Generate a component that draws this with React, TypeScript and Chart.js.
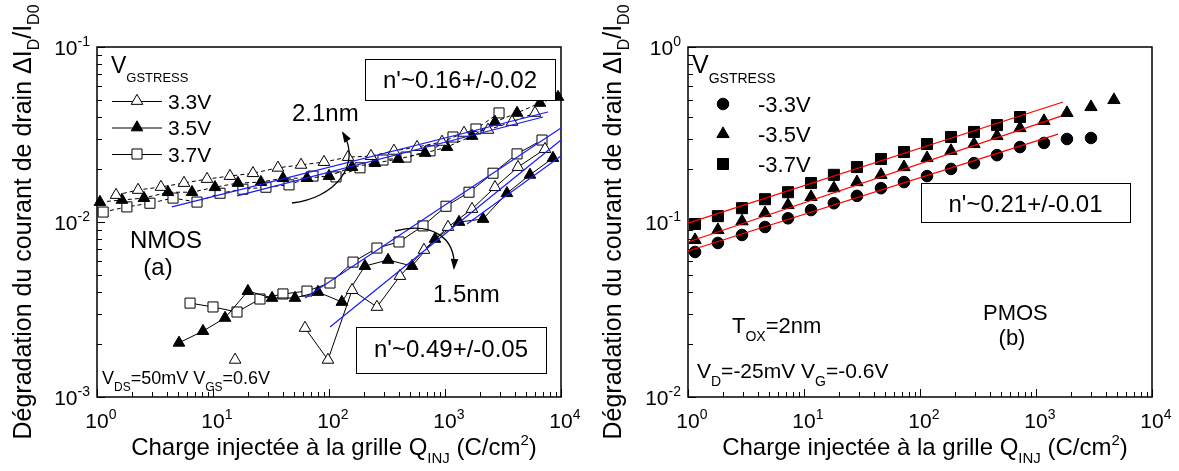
import React, { useEffect, useRef } from "react";
import { Chart, registerables } from "chart.js";

Chart.register(...registerables);

const FONT = '"Liberation Sans", Arial, Helvetica, sans-serif';

// ---------------- Panel (a) NMOS ----------------
const nmosXExps = [0, 1, 2, 3, 4];
const nmosYExps = [-3, -2, -1];

// 2.1 nm oxide
const n21_33_x = [1.46, 2.26, 3.56, 5.62, 8.88, 14.0, 22.1, 36.3, 57.4, 90.6, 146, 230, 363, 574, 942, 1459, 2349, 3784, 5970];
const n21_33_y = [0.01426, 0.01524, 0.01585, 0.0167, 0.0176, 0.0183, 0.019, 0.0204, 0.0212, 0.022, 0.0235, 0.0238, 0.0255, 0.0268, 0.0287, 0.0323, 0.0336, 0.0373, 0.042];
const n21_35_x = [1.06, 1.64, 2.54, 4.09, 6.59, 10.4, 16.4, 25.9, 40.1, 64.6, 100, 158, 249, 394, 673, 1040, 1710, 2700, 4180, 6590, 9420];
const n21_35_y = [0.013, 0.01336, 0.0137, 0.0148, 0.0148, 0.0158, 0.0167, 0.0169, 0.0178, 0.0178, 0.0183, 0.0206, 0.0217, 0.0229, 0.0248, 0.0268, 0.031, 0.0373, 0.042, 0.0479, 0.0518];
const n21_37_x = [1.13, 1.81, 2.86, 4.52, 7.28, 11.5, 18.1, 28.6, 45.2, 72.8, 115, 185, 292, 461, 743, 1172, 1849, 2923];
const n21_37_y = [0.0114, 0.0122, 0.0128, 0.0137, 0.013, 0.0146, 0.0154, 0.0158, 0.0163, 0.0183, 0.0181, 0.0204, 0.0226, 0.0235, 0.0255, 0.0306, 0.034, 0.042];

// 1.5 nm oxide (null = break in the curve)
const n15_33_x = [15.5, 30, 62.1, 98, 158, 259, 409, 659, 1061, 1710, 2698, 4258, 7280];
const n15_33_y = [0.00163, null, 0.00248, 0.00163, 0.00408, 0.00327, 0.00491, 0.00692, 0.00936, 0.01186, 0.0158, 0.0206, 0.0261];
const n15_35_x = [5.09, 8.2, 12.7, 20.0, 32.3, 50.9, 80.4, 129, 204, 323, 520, 820, 1321, 2128, 3420, 5404, 8530];
const n15_35_y = [0.00204, 0.00238, 0.00283, 0.00403, 0.00368, 0.00368, 0.00398, 0.00349, 0.0056, 0.00607, 0.0056, 0.008, 0.01, 0.0104, 0.0146, 0.0186, 0.0232];
const n15_37_x = [6.34, 10, 16.1, 25.4, 40.1, 64.6, 102, 161, 259, 401, 646, 1020, 1610, 2594, 4178, 6860];
const n15_37_y = [0.00344, 0.00327, 0.00306, 0.00363, 0.00388, 0.00403, 0.00448, 0.0059, 0.0071, 0.00769, 0.0095, 0.0123, 0.0148, 0.019, 0.0245, 0.0294];

// power-law fits
const fit21a_x = [4.43, 7727];
const fit21a_y = [0.0122, 0.0425];
const fit21b_x = [16.1, 7000];
const fit21b_y = [0.0141, 0.0398];
const fit15a_x = [62.1, 10000];
const fit15a_y = [0.00368, 0.0344];
const fit15b_x = [102, 10000];
const fit15b_y = [0.00251, 0.0294];
const fit15c_x = [1549, 10000];
const fit15c_y = [0.00975, 0.0238];

const nmosLegend = ["3.3V", "3.5V", "3.7V"];

// ---------------- Panel (b) PMOS ----------------
const pmosXExps = [0, 1, 2, 3, 4];
const pmosYExps = [-2, -1, 0];
const pmosX = [1.15, 1.81, 2.92, 4.61, 7.28, 11.5, 18.1, 28.6, 46.1, 72.8, 115, 185, 292, 461, 728, 1172, 1849, 2979, 4698];
const p33_y = [0.0674, 0.0759, 0.0843, 0.0936, 0.105, 0.117, 0.128, 0.141, 0.156, 0.169, 0.183, 0.201, 0.217, 0.241, 0.268, 0.283, 0.298, 0.302];
const p35_y = [0.0789, 0.09, 0.101, 0.1125, 0.125, 0.139, 0.156, 0.169, 0.186, 0.206, 0.232, 0.255, 0.279, 0.31, 0.344, 0.378, 0.42, 0.454, 0.498];
const p37_y = [0.0974, 0.108, 0.12, 0.135, 0.148, 0.167, 0.186, 0.206, 0.229, 0.251, 0.279, 0.306, 0.327, 0.358, 0.398];
const fitP33_x = [1, 1549];
const fitP33_y = [0.0683, 0.318];
const fitP35_x = [1, 1643];
const fitP35_y = [0.0769, 0.403];
const fitP37_x = [1, 1710];
const fitP37_y = [0.0986, 0.485];

const pmosLegend = ["-3.3V", "-3.5V", "-3.7V"];

// ---------------- helpers ----------------
type Run = { t: string; k?: "sub" | "sup" };

function drawRuns(
  ctx: CanvasRenderingContext2D,
  list: Run[],
  x: number,
  y: number,
  size: number,
  align: "left" | "center" | "right" = "left",
  smallRatio = 0.62,
  subDy = 0.4,
  supDy = 0.42
) {
  const small = Math.round(size * smallRatio);
  const ws = list.map((r) => {
    ctx.font = `${r.k ? small : size}px ${FONT}`;
    return ctx.measureText(r.t).width;
  });
  const total = ws.reduce((a, b) => a + b, 0);
  let cx = align === "left" ? x : align === "center" ? x - total / 2 : x - total;
  ctx.textAlign = "left";
  ctx.textBaseline = "alphabetic";
  list.forEach((r, i) => {
    ctx.font = `${r.k ? small : size}px ${FONT}`;
    const dy = r.k === "sub" ? size * subDy : r.k === "sup" ? -size * supDy : 0;
    ctx.fillText(r.t, cx, y + dy);
    cx += ws[i];
  });
  return total;
}

function marker(ctx: CanvasRenderingContext2D, style: string, x: number, y: number, r: number, filled: boolean) {
  ctx.beginPath();
  if (style === "triangle") {
    ctx.moveTo(x, y - r);
    ctx.lineTo(x + 0.866 * r, y + 0.5 * r);
    ctx.lineTo(x - 0.866 * r, y + 0.5 * r);
    ctx.closePath();
  } else if (style === "rect") {
    const s = r * Math.SQRT1_2;
    ctx.rect(x - s, y - s, 2 * s, 2 * s);
  } else {
    ctx.arc(x, y, r, 0, Math.PI * 2);
  }
  ctx.fillStyle = filled ? "#000" : "#fff";
  ctx.fill();
  ctx.strokeStyle = "#000";
  ctx.lineWidth = 1;
  ctx.stroke();
}

function curvedArrow(ctx: CanvasRenderingContext2D, p: number[][], head = 9) {
  const [p0, c1, c2, p3] = p;
  ctx.beginPath();
  ctx.moveTo(p0[0], p0[1]);
  ctx.bezierCurveTo(c1[0], c1[1], c2[0], c2[1], p3[0], p3[1]);
  ctx.strokeStyle = "#000";
  ctx.lineWidth = 1.3;
  ctx.stroke();
  const a = Math.atan2(p3[1] - c2[1], p3[0] - c2[0]);
  const bx = p3[0] - head * Math.cos(a);
  const by = p3[1] - head * Math.sin(a);
  const w = head * 0.42;
  ctx.beginPath();
  ctx.moveTo(p3[0] + 2 * Math.cos(a), p3[1] + 2 * Math.sin(a));
  ctx.lineTo(bx + w * Math.sin(a), by - w * Math.cos(a));
  ctx.lineTo(bx - w * Math.sin(a), by + w * Math.cos(a));
  ctx.closePath();
  ctx.fillStyle = "#000";
  ctx.fill();
}

function textBox(ctx: CanvasRenderingContext2D, text: string, x: number, y: number, w: number, h: number, baseline: number, size: number) {
  ctx.fillStyle = "#fff";
  ctx.fillRect(x, y, w, h);
  ctx.strokeStyle = "#000";
  ctx.lineWidth = 1;
  ctx.strokeRect(x + 0.5, y + 0.5, w, h);
  ctx.fillStyle = "#000";
  ctx.font = `${size}px ${FONT}`;
  ctx.textAlign = "center";
  ctx.textBaseline = "alphabetic";
  ctx.fillText(text, x + w / 2, baseline);
}

const yTitle: Run[] = [
  { t: "Dégradation du courant de drain ΔI" },
  { t: "D", k: "sub" },
  { t: "/I" },
  { t: "D0", k: "sub" },
];
const xTitle: Run[] = [
  { t: "Charge injectée à la grille Q" },
  { t: "INJ", k: "sub" },
  { t: " (C/cm" },
  { t: "2", k: "sup" },
  { t: ")" },
];

function axesPlugin(xExps: number[], yExps: number[], extra: (ctx: CanvasRenderingContext2D, chart: any) => void) {
  return {
    id: "axesDecor",
    beforeDatasetsDraw(chart: any) {
      const { ctx, chartArea: a, scales } = chart;
      const sx = scales.x;
      const sy = scales.y;
      ctx.save();
      ctx.strokeStyle = "#000";
      // ticks
      ctx.lineWidth = 1;
      ctx.beginPath();
      for (let e = xExps[0]; e <= xExps[xExps.length - 1]; e++) {
        for (let k = 1; k <= 9; k++) {
          if (e === xExps[xExps.length - 1] && k > 1) break;
          const px = Math.round(sx.getPixelForValue(k * Math.pow(10, e))) + 0.5;
          const len = k === 1 ? 8 : 5;
          ctx.moveTo(px, a.bottom);
          ctx.lineTo(px, a.bottom - len);
        }
      }
      for (let e = yExps[0]; e <= yExps[yExps.length - 1]; e++) {
        for (let k = 1; k <= 9; k++) {
          if (e === yExps[yExps.length - 1] && k > 1) break;
          const py = Math.round(sy.getPixelForValue(k * Math.pow(10, e))) + 0.5;
          const len = k === 1 ? 8 : 5;
          ctx.moveTo(a.left, py);
          ctx.lineTo(a.left + len, py);
        }
      }
      ctx.stroke();
      // frame
      ctx.lineWidth = 1.5;
      ctx.strokeRect(a.left, a.top, a.right - a.left, a.bottom - a.top);
      // tick labels
      ctx.fillStyle = "#000";
      xExps.forEach((e) => {
        const px = sx.getPixelForValue(Math.pow(10, e));
        ctx.font = `21px ${FONT}`;
        const w = ctx.measureText("10").width;
        drawRuns(ctx, [{ t: "10" }, { t: String(e), k: "sup" }], px - w / 2, a.bottom + 31, 21, "left", 0.68);
      });
      yExps.forEach((e) => {
        const py = sy.getPixelForValue(Math.pow(10, e));
        drawRuns(ctx, [{ t: "10" }, { t: String(e), k: "sup" }], a.left - 7, py + 8, 21, "right", 0.68);
      });
      // axis titles
      drawRuns(ctx, xTitle, (a.left + a.right) / 2 + 5, a.bottom + 58, 24, "center", 0.62, 0.33, 0.42);
      ctx.save();
      ctx.translate(31, (a.top + a.bottom) / 2);
      ctx.rotate(-Math.PI / 2);
      drawRuns(ctx, yTitle, 0, 0, 25, "center", 0.62, 0.3);
      ctx.restore();
      ctx.restore();
    },
    afterDatasetsDraw(chart: any) {
      const { ctx } = chart;
      ctx.save();
      ctx.fillStyle = "#000";
      extra(ctx, chart);
      ctx.restore();
    },
  };
}

function series(
  xs: number[],
  ys: (number | null)[],
  pointStyle: string,
  radius: number,
  filled: boolean,
  line: boolean,
  dash: number[] = []
) {
  return {
    data: xs.slice(0, ys.length).map((x, i) => ({ x, y: ys[i] })),
    showLine: line,
    borderColor: "#000",
    borderWidth: 1,
    borderDash: dash,
    backgroundColor: filled ? "#000" : "#fff",
    pointStyle,
    pointRadius: radius,
    pointHoverRadius: radius,
    pointBackgroundColor: filled ? "#000" : "#fff",
    pointBorderColor: "#000",
    pointBorderWidth: 1,
    tension: 0,
    spanGaps: false,
    clip: false,
    order: 2,
  };
}

function fitLine(xs: number[], ys: number[], color: string) {
  return {
    data: xs.map((x, i) => ({ x, y: ys[i] })),
    showLine: true,
    borderColor: color,
    borderWidth: 1.2,
    pointRadius: 0,
    pointHoverRadius: 0,
    tension: 0,
    clip: false,
    order: 1,
  };
}

function baseOptions(pad: { left: number; right: number; top: number; bottom: number }, yMin: number, yMax: number) {
  return {
    responsive: false,
    animation: false,
    devicePixelRatio: 1,
    events: [],
    layout: { padding: pad },
    plugins: { legend: { display: false }, tooltip: { enabled: false }, title: { display: false } },
    scales: {
      x: { type: "logarithmic", min: 1, max: 1e4, display: false },
      y: { type: "logarithmic", min: yMin, max: yMax, display: false },
    },
  };
}

function buildNmos(): any {
  const dash = [4, 3];
  const datasets = [
    fitLine(fit21a_x, fit21a_y, "#1a1aff"),
    fitLine(fit21b_x, fit21b_y, "#1a1aff"),
    fitLine(fit15a_x, fit15a_y, "#1a1aff"),
    fitLine(fit15b_x, fit15b_y, "#1a1aff"),
    fitLine(fit15c_x, fit15c_y, "#1a1aff"),
    series(n21_33_x, n21_33_y, "triangle", 6.7, false, true, dash),
    series(n21_35_x, n21_35_y, "triangle", 6.7, true, true, dash),
    series(n21_37_x, n21_37_y, "rect", 7.1, false, true, dash),
    series(n15_33_x, n15_33_y, "triangle", 6.7, false, true),
    series(n15_35_x, n15_35_y, "triangle", 6.7, true, true),
    series(n15_37_x, n15_37_y, "rect", 7.1, false, true),
  ];
  const extra = (ctx: CanvasRenderingContext2D) => {
    // legend
    drawRuns(ctx, [{ t: "V" }, { t: "GSTRESS", k: "sub" }], 111, 73, 23, "left", 0.57, 0.4);
    const styles = [
      ["triangle", false],
      ["triangle", true],
      ["rect", false],
    ];
    nmosLegend.forEach((lab, i) => {
      const y = 101 + i * 26.5;
      ctx.strokeStyle = "#000";
      ctx.lineWidth = 1;
      ctx.beginPath();
      ctx.moveTo(112, y + 0.5);
      ctx.lineTo(162, y + 0.5);
      ctx.stroke();
      marker(ctx, styles[i][0] as string, 137, y, styles[i][0] === "rect" ? 7.1 : 6.7, styles[i][1] as boolean);
      ctx.fillStyle = "#000";
      ctx.font = `21px ${FONT}`;
      ctx.textAlign = "left";
      ctx.fillText(lab, 168, y + 7.5);
    });
    // annotations
    ctx.fillStyle = "#000";
    ctx.font = `24px ${FONT}`;
    ctx.textAlign = "left";
    ctx.fillText("2.1nm", 292, 121);
    ctx.fillText("1.5nm", 433, 302);
    ctx.fillText("NMOS", 130, 248);
    ctx.textAlign = "center";
    ctx.fillText("(a)", 158, 275);
    curvedArrow(ctx, [[292, 203], [335, 198], [362, 165], [343, 133]]);
    curvedArrow(ctx, [[395, 231], [430, 222], [456, 236], [454, 268]]);
    textBox(ctx, "n'~0.16+/-0.02", 365, 59, 190, 41, 88, 24);
    textBox(ctx, "n'~0.49+/-0.05", 356, 327, 190, 46, 357, 24);
    ctx.fillStyle = "#000";
    drawRuns(
      ctx,
      [{ t: "V" }, { t: "DS", k: "sub" }, { t: "=50mV V" }, { t: "GS", k: "sub" }, { t: "=0.6V" }],
      102,
      384,
      18,
      "left",
      0.66,
      0.4
    );
  };
  return {
    type: "scatter",
    data: { datasets },
    options: baseOptions({ left: 97, right: 29, top: 47, bottom: 74 }, 1e-3, 1e-1),
    plugins: [axesPlugin(nmosXExps, nmosYExps, extra)],
  };
}

function buildPmos(): any {
  const datasets = [
    fitLine(fitP33_x, fitP33_y, "#ff0000"),
    fitLine(fitP35_x, fitP35_y, "#ff0000"),
    fitLine(fitP37_x, fitP37_y, "#ff0000"),
    series(pmosX, p33_y, "circle", 5.8, true, false),
    series(pmosX, p35_y, "triangle", 7.1, true, false),
    series(pmosX, p37_y, "rect", 7.8, true, false),
  ];
  const extra = (ctx: CanvasRenderingContext2D) => {
    drawRuns(ctx, [{ t: "V" }, { t: "GSTRESS", k: "sub" }], 102, 73, 25, "left", 0.54, 0.38);
    const styles = ["circle", "triangle", "rect"];
    const radii = [5.8, 7.1, 7.8];
    pmosLegend.forEach((lab, i) => {
      const y = 104 + i * 30;
      marker(ctx, styles[i], 133, y, radii[i], true);
      ctx.fillStyle = "#000";
      ctx.font = `22px ${FONT}`;
      ctx.textAlign = "left";
      ctx.fillText(lab, 168, y + 8);
    });
    textBox(ctx, "n'~0.21+/-0.01", 331, 183, 209, 39, 212, 24);
    ctx.fillStyle = "#000";
    ctx.font = `22px ${FONT}`;
    ctx.textAlign = "left";
    ctx.fillText("PMOS", 393, 320);
    ctx.textAlign = "center";
    ctx.fillText("(b)", 422, 345);
    drawRuns(ctx, [{ t: "T" }, { t: "OX", k: "sub" }, { t: "=2nm" }], 142, 333, 22, "left", 0.64, 0.38);
    drawRuns(
      ctx,
      [{ t: "V" }, { t: "D", k: "sub" }, { t: "=-25mV V" }, { t: "G", k: "sub" }, { t: "=-0.6V" }],
      107,
      378,
      21,
      "left",
      0.66,
      0.4
    );
  };
  return {
    type: "scatter",
    data: { datasets },
    options: baseOptions({ left: 98, right: 27, top: 47, bottom: 74 }, 1e-2, 1),
    plugins: [axesPlugin(pmosXExps, pmosYExps, extra)],
  };
}

function ChartCanvas({ left, width, height, build }: { left: number; width: number; height: number; build: () => any }) {
  const ref = useRef<HTMLCanvasElement>(null);
  useEffect(() => {
    const chart = new Chart(ref.current as HTMLCanvasElement, build());
    return () => chart.destroy();
  }, [build]);
  return (
    <canvas
      ref={ref}
      width={width}
      height={height}
      style={{ position: "absolute", left, top: 0, width, height, display: "block" }}
    />
  );
}

export default function App() {
  return (
    <div style={{ position: "fixed", left: 0, top: 0, width: 1179, height: 471, background: "#fff", overflow: "hidden" }}>
      <ChartCanvas left={0} width={590} height={471} build={buildNmos} />
      <ChartCanvas left={590} width={589} height={471} build={buildPmos} />
    </div>
  );
}
